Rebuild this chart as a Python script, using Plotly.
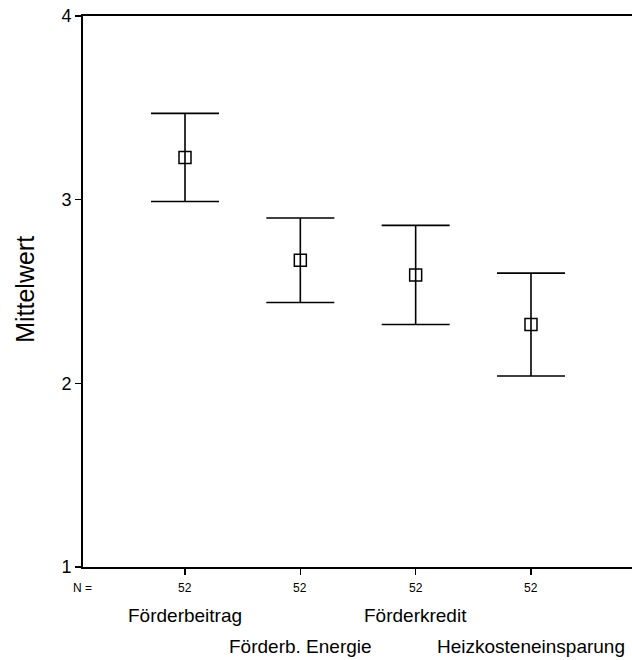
import plotly.graph_objects as go

categories = ["Förderbeitrag", "Förderb. Energie", "Förderkredit", "Heizkosteneinsparung"]
means = [3.23, 2.67, 2.59, 2.32]
upper = [3.47, 2.90, 2.86, 2.60]
lower = [2.99, 2.44, 2.32, 2.04]
n_values = [52, 52, 52, 52]
y_ticks = [1, 2, 3, 4]

xs = list(range(len(categories)))
err_plus = [u - m for u, m in zip(upper, means)]
err_minus = [m - l for m, l in zip(means, lower)]

FONT = "Liberation Sans, Arial, sans-serif"

fig = go.Figure()
fig.add_trace(go.Scatter(
    x=xs, y=means, mode="markers",
    marker=dict(symbol="square-open", size=12, color="black", line=dict(width=1.5, color="black")),
    error_y=dict(type="data", symmetric=False, array=err_plus, arrayminus=err_minus,
                 color="black", thickness=1.6, width=34),
    showlegend=False, hoverinfo="skip",
))

annotations = []
for i, (c, n) in enumerate(zip(categories, n_values)):
    annotations.append(dict(x=i, y=0, xref="x", yref="paper", text=str(n), showarrow=False,
                            xanchor="center", yanchor="middle", yshift=-21,
                            font=dict(family=FONT, size=12, color="black")))
    annotations.append(dict(x=i, y=0, xref="x", yref="paper", text=c, showarrow=False,
                            xanchor="center", yanchor="middle",
                            yshift=-48 if i % 2 == 0 else -79,
                            font=dict(family=FONT, size=19, color="black")))
annotations.append(dict(x=0, y=0, xref="paper", yref="paper", text="N =", showarrow=False,
                        xanchor="center", yanchor="middle", xshift=-1, yshift=-21,
                        font=dict(family=FONT, size=12, color="black")))
annotations.append(dict(x=0, y=0.503, xref="paper", yref="paper", text="Mittelwert", showarrow=False,
                        xanchor="center", yanchor="middle", xshift=-58, textangle=-90,
                        font=dict(family=FONT, size=25, color="black")))

fig.update_layout(
    width=632, height=660,
    margin=dict(l=83, r=0, t=16, b=93),
    paper_bgcolor="white", plot_bgcolor="white",
    font=dict(family=FONT, color="black"),
    annotations=annotations,
    xaxis=dict(range=[-0.8844, 3.8758], tickvals=xs, showticklabels=False,
               ticks="outside", ticklen=6, tickwidth=1.5, tickcolor="black",
               showline=True, linecolor="black", linewidth=2, mirror=True,
               showgrid=False, zeroline=False),
    yaxis=dict(range=[1, 4], tickvals=y_ticks, ticks="outside", ticklen=6, tickwidth=1.5,
               tickcolor="black", showline=True, linecolor="black", linewidth=2,
               showgrid=False, zeroline=False,
               tickfont=dict(family=FONT, size=18, color="black")),
)

fig.write_html("out.html",
               config={"displayModeBar": False, "staticPlot": True},
               post_script="document.body.style.margin='0';document.body.style.overflow='hidden';")
